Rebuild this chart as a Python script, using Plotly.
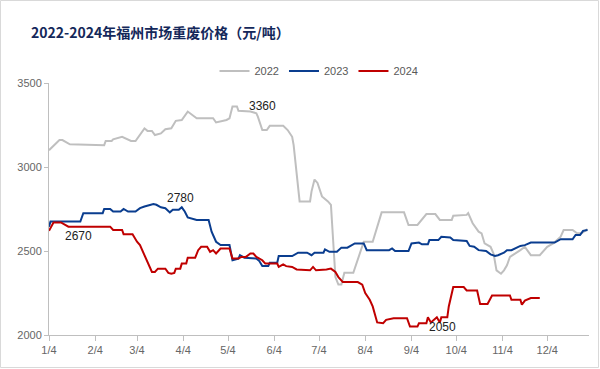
import pandas as pd
import plotly.graph_objects as go

# ---- data (dates as month-day, values in 元/吨) ----
dates_2022 = ["01-04","01-11","01-13","01-18","02-10","02-11","02-15","02-16","02-22","02-28",
              "03-03","03-09","03-11","03-14","03-16","03-20","03-23","03-27","03-30","04-03",
              "04-07","04-10","04-13","04-18","04-24","04-26","05-03","05-05","05-07","05-10",
              "05-11","05-19","05-23","05-24","05-25","05-27","05-30","06-01","06-10","06-13",
              "06-16","06-17","06-21","06-28","06-29","07-01","07-03","07-06","07-10","07-12",
              "07-15","07-17","07-19","07-21","07-27","08-03","08-09","08-15","08-30","09-02",
              "09-08","09-14","09-20","09-23","10-01","10-02","10-11","10-12","10-15","10-19",
              "10-21","10-23","10-27","10-29","10-31","11-03","11-05","11-07","11-09","11-13",
              "11-16","11-19","11-23","11-29","12-04","12-08","12-13","12-15","12-21","12-24",
              "12-27","12-31"]
values_2022 = [3100,3160,3160,3135,3130,3155,3155,3165,3180,3155,
               3155,3230,3215,3215,3190,3200,3225,3230,3275,3280,
               3330,3310,3290,3290,3290,3265,3280,3290,3360,3360,
               3335,3330,3320,3300,3270,3220,3220,3245,3245,3220,
               3180,3130,2795,2795,2855,2925,2905,2825,2795,2775,
               2345,2300,2300,2370,2370,2555,2555,2730,2730,2655,
               2655,2720,2720,2685,2685,2710,2715,2725,2665,2615,
               2605,2545,2525,2485,2385,2365,2385,2415,2465,2485,
               2505,2525,2475,2475,2525,2545,2585,2625,2625,2605,
               2605,2630]

dates_2023 = ["01-04","01-05","01-25","01-27","02-09","02-10","02-14","02-16","02-21","02-23",
              "02-26","03-03","03-06","03-09","03-15","03-17","03-20","03-23","03-26","03-28",
              "04-01","04-03","04-05","04-07","04-13","04-21","04-23","04-26","04-29","05-05",
              "05-07","05-11","05-12","05-15","05-23","05-25","05-27","05-31","06-01","06-06",
              "06-07","06-16","06-20","06-26","06-29","07-01","07-07","07-08","07-11","07-16",
              "07-19","07-23","07-28","08-03","08-05","08-20","08-22","08-24","09-02","09-04",
              "09-09","09-11","09-15","09-16","09-22","09-24","09-30","10-02","10-11","10-13",
              "10-16","10-19","10-24","10-27","10-30","11-01","11-05","11-07","11-10","11-13",
              "11-16","11-19","11-23","12-09","12-13","12-21","12-23","12-26","12-28","12-31"]
values_2023 = [2645,2675,2675,2725,2725,2750,2750,2735,2735,2750,
               2735,2735,2755,2765,2780,2775,2760,2755,2730,2745,
               2745,2760,2735,2700,2685,2685,2615,2555,2535,2535,
               2445,2455,2475,2460,2455,2440,2410,2410,2430,2430,
               2470,2470,2490,2490,2475,2490,2490,2510,2495,2495,
               2520,2520,2545,2545,2505,2505,2515,2500,2500,2545,
               2550,2540,2540,2565,2565,2585,2580,2565,2560,2530,
               2525,2505,2500,2480,2470,2475,2490,2505,2505,2520,
               2530,2535,2550,2550,2570,2570,2595,2595,2620,2625]

dates_2024 = ["01-04","01-07","01-12","01-15","01-17","02-14","02-16","02-22","02-23","03-01",
              "03-04","03-06","03-08","03-10","03-14","03-16","03-18","03-23","03-25","03-27",
              "03-29","03-30","04-02","04-03","04-06","04-07","04-12","04-14","04-16","04-20",
              "04-22","04-24","04-26","04-29","05-05","05-07","05-11","05-13","05-16","05-19",
              "05-21","05-23","05-27","05-29","06-06","06-07","06-10","06-12","06-16","06-19",
              "06-28","06-30","07-02","07-09","07-12","07-15","07-17","07-20","07-30","08-02",
              "08-04","08-07","08-09","08-12","08-16","08-18","08-23","09-01","09-03","09-08",
              "09-09","09-14","09-15","09-17","09-21","09-23","09-24","09-28","09-29","10-02",
              "10-09","10-11","10-18","10-20","10-25","10-28","11-09","11-10","11-16","11-17",
              "11-19","11-23","11-29"]
values_2024 = [2620,2670,2670,2655,2645,2645,2625,2625,2600,2600,
               2555,2535,2495,2455,2375,2375,2395,2395,2370,2365,
               2370,2395,2395,2425,2425,2460,2460,2505,2525,2525,
               2495,2505,2485,2515,2515,2455,2455,2465,2465,2485,
               2485,2465,2445,2425,2425,2405,2420,2410,2405,2390,
               2385,2405,2385,2390,2395,2375,2345,2315,2315,2300,
               2250,2210,2170,2075,2070,2090,2100,2100,2050,2050,
               2070,2070,2105,2075,2105,2075,2105,2105,2170,2285,
               2285,2265,2265,2185,2185,2235,2235,2210,2210,2180,
               2205,2220,2220]

series_names = ["2022", "2023", "2024"]
series_colors = ["#bfbfbf", "#0a3d8f", "#c00000"]

tick_dates = ["01-04","02-04","03-04","04-04","05-04","06-04","07-04","08-04","09-04","10-04","11-04","12-04"]
tick_labels = ["1/4","2/4","3/4","4/4","5/4","6/4","7/4","8/4","9/4","10/4","11/4","12/4"]

label_texts = ["3360", "2780", "2670", "2050"]
label_dates = ["05-27", "04-02", "01-24", "09-25"]
label_values = [3363, 2817, 2591, 2050]

def to_dt(md):
    return pd.to_datetime(["2022-" + d for d in md])

fig = go.Figure()
for name, d, v, c in zip(series_names, [dates_2022, dates_2023, dates_2024],
                         [values_2022, values_2023, values_2024], series_colors):
    fig.add_trace(go.Scatter(x=to_dt(d), y=v, mode="lines", name=name,
                             line=dict(color=c, width=2)))

for t, d, v in zip(label_texts, label_dates, label_values):
    fig.add_annotation(x=pd.Timestamp("2022-" + d), y=v, text=t, showarrow=False,
                       xanchor="center", yanchor="middle",
                       font=dict(family="Liberation Sans, Arial", size=12, color="#222222"))

fig.add_annotation(xref="paper", yref="paper", x=(29 - 49) / 540, y=(335 - 32) / 252,
                   xanchor="left", yanchor="middle", showarrow=False,
                   text="<b>2022-2024年福州市场重废价格（元/吨）</b>",
                   font=dict(family="Noto Sans CJK SC", size=14, color="#14285a"))

fig.add_shape(type="rect", xref="paper", yref="paper",
              x0=(0.5 - 49) / 540, x1=(598.5 - 49) / 540,
              y0=(335 - 367.5) / 252, y1=(335 - 0.5) / 252,
              line=dict(color="#d9d9d9", width=1), fillcolor="rgba(0,0,0,0)", layer="below")

fig.update_layout(
    width=600, height=369,
    margin=dict(l=49, r=11, t=83, b=34),
    paper_bgcolor="white", plot_bgcolor="white",
    showlegend=True,
    legend=dict(orientation="h", x=0.5, xanchor="center", y=(335 - 71) / 252, yanchor="middle",
                font=dict(family="Liberation Sans, Arial", size=11, color="#595959"),
                bgcolor="rgba(0,0,0,0)", itemwidth=30, tracegroupgap=0),
    xaxis=dict(type="date", range=[pd.Timestamp("2022-01-04"), pd.Timestamp("2023-01-01")],
               tickvals=to_dt(tick_dates), ticktext=tick_labels,
               showgrid=False, zeroline=False, showline=True, linecolor="#bfbfbf", linewidth=1,
               ticks="outside", ticklen=5, tickcolor="#bfbfbf",
               tickfont=dict(family="Liberation Sans, Arial", size=11, color="#666666")),
    yaxis=dict(range=[2000, 3500], tickvals=[2000, 2500, 3000, 3500],
               showgrid=False, zeroline=False, showline=True, linecolor="#bfbfbf", linewidth=1,
               ticks="outside", ticklen=4, tickcolor="#bfbfbf",
               tickfont=dict(family="Liberation Sans, Arial", size=11, color="#666666")),
)

fig.write_html("out.html", config={"displayModeBar": False},
               post_script="document.body.style.margin='0';document.body.style.overflow='hidden';")
